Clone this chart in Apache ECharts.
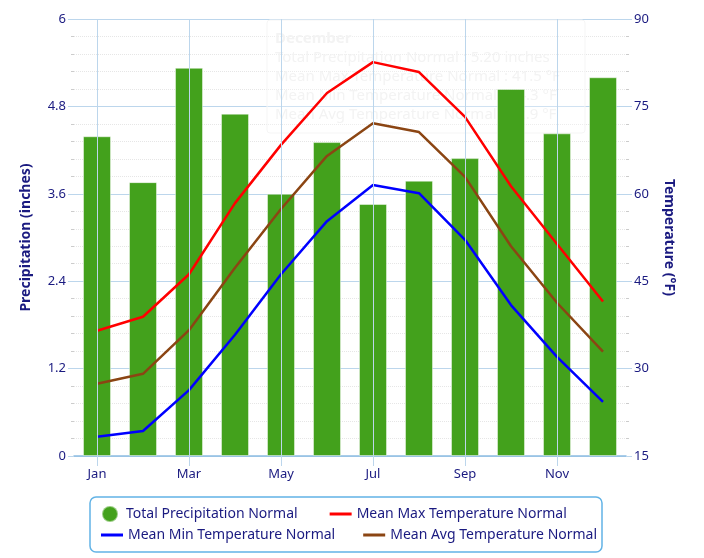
<!DOCTYPE html>
<html>
<head>
<meta charset="utf-8">
<script src="https://cdn.jsdelivr.net/npm/echarts@6/dist/echarts.min.js"></script>
<style>html,body{margin:0;padding:0;background:#fff}#c{width:704px;height:558px}</style>
</head>
<body>
<div id="c"></div>
<script>
const months = ['Jan','Feb','Mar','Apr','May','Jun','Jul','Aug','Sep','Oct','Nov','Dec'];
const precip = [4.39, 3.76, 5.33, 4.70, 3.60, 4.31, 3.46, 3.78, 4.09, 5.04, 4.43, 5.20];
const maxTemp = [36.5, 38.9, 46.2, 58.4, 68.4, 77.3, 82.6, 80.9, 73.2, 61.3, 51.4, 41.5];
const avgTemp = [27.4, 29.1, 36.6, 47.3, 57.4, 66.5, 72.1, 70.6, 62.9, 51.0, 41.3, 32.9];
const minTemp = [18.3, 19.3, 26.3, 35.8, 46.2, 55.3, 61.5, 60.1, 52.1, 40.9, 32.0, 24.3];
const precipAxis = {min: 0, max: 6, interval: 1.2};
const tempAxis = {min: 15, max: 90, interval: 15};
const gridMonths = ['Jan','Mar','May','Jul','Sep','Nov'];
const ghostLines = ['December','Total Precipitation Normal : 5.20 inches','Mean Max Temperature Normal : 41.5 °F','Mean Min Temperature Normal : 24.3 °F','Mean Avg Temperature Normal : 32.9 °F'];

const navy = '#1a1a80';
const font = 'Noto Sans';
const gridBlue = '#bcd6ec';
const ghost = '#f3f3f3';

const chart = echarts.init(document.getElementById('c'));
chart.setOption({
  animation: false,
  textStyle: {fontFamily: font},
  grid: {left: 74, right: 78, top: 19, bottom: 102, containLabel: false},
  graphic: [
    {type: 'rect', z: 1, shape: {x: 267, y: 20, width: 318, height: 113, r: 3},
     style: {fill: 'rgba(255,255,255,0.3)', stroke: '#f5f5f5', lineWidth: 1}},
    {type: 'text', z: 1, x: 275, y: 31, style: {text: ghostLines[0], font: 'bold 15px ' + font, fill: ghost}},
    {type: 'text', z: 1, x: 275, y: 50, style: {text: ghostLines[1], font: '15px ' + font, fill: ghost}},
    {type: 'text', z: 1, x: 275, y: 69, style: {text: ghostLines[2], font: '15px ' + font, fill: ghost}},
    {type: 'text', z: 1, x: 275, y: 88, style: {text: ghostLines[3], font: '15px ' + font, fill: ghost}},
    {type: 'text', z: 1, x: 275, y: 107, style: {text: ghostLines[4], font: '15px ' + font, fill: ghost}},
    {type: 'rect', shape: {x: 90, y: 497, width: 512, height: 55, r: 6},
     style: {fill: 'none', stroke: '#62b3e6', lineWidth: 1.5}}
  ],
  legend: [
    {left: 96, top: 500, itemWidth: 22, itemHeight: 16, itemGap: 32,
     textStyle: {color: navy, fontSize: 14, fontFamily: font},
     data: [
       {name: 'Total Precipitation Normal', icon: 'circle'},
       {name: 'Mean Max Temperature Normal', icon: 'path://M0,0L22,0L22,3L0,3Z'}
     ]},
    {left: 96, top: 523, itemWidth: 22, itemHeight: 16, itemGap: 28,
     textStyle: {color: navy, fontSize: 14, fontFamily: font},
     data: [
       {name: 'Mean Min Temperature Normal', icon: 'path://M0,0L22,0L22,3L0,3Z'},
       {name: 'Mean Avg Temperature Normal', icon: 'path://M0,0L22,0L22,3L0,3Z'}
     ]}
  ],
  xAxis: {
    type: 'category', data: months, boundaryGap: true,
    axisLine: {show: true, lineStyle: {color: '#8dbde2', width: 1.5}},
    axisTick: {show: true, alignWithLabel: true, interval: 1, length: 10, lineStyle: {color: gridBlue}},
    axisLabel: {interval: 1, color: navy, fontSize: 13, margin: 12},
    splitLine: {show: false}
  },
  yAxis: [
    {type: 'value', min: precipAxis.min, max: precipAxis.max, interval: precipAxis.interval,
     name: 'Precipitation (inches)', nameLocation: 'middle', nameGap: 41,
     nameTextStyle: {color: navy, fontSize: 14, fontWeight: 'bold', fontFamily: font},
     axisLine: {show: false},
     axisTick: {show: true, length: 6, lineStyle: {color: gridBlue}},
     minorTick: {show: true, splitNumber: 5, length: 3, lineStyle: {color: '#cccccc'}},
     axisLabel: {color: navy, fontSize: 13, margin: 8},
     splitLine: {show: true, lineStyle: {color: gridBlue, width: 1}},
     minorSplitLine: {show: true, lineStyle: {color: '#e6e6e6', type: 'dotted'}}
    },
    {type: 'value', min: tempAxis.min, max: tempAxis.max, interval: tempAxis.interval,
     name: 'Temperature (°F)', nameLocation: 'middle', nameGap: 36, nameRotate: -90,
     nameTextStyle: {color: navy, fontSize: 14, fontWeight: 'bold', fontFamily: font},
     axisLine: {show: false},
     axisTick: {show: true, length: 6, lineStyle: {color: gridBlue}},
     minorTick: {show: true, splitNumber: 5, length: 3, lineStyle: {color: '#cccccc'}},
     axisLabel: {color: navy, fontSize: 13, margin: 8},
     splitLine: {show: false}
    }
  ],
  series: [
    {name: 'gridlines', type: 'line', z: 1, data: [], silent: true,
     markLine: {silent: true, symbol: 'none', label: {show: false},
       lineStyle: {color: gridBlue, type: 'solid', width: 1},
       data: gridMonths.map(m => ({xAxis: m}))}},
    {name: 'Total Precipitation Normal', type: 'bar', yAxisIndex: 0, z: 2, barWidth: 28,
     itemStyle: {color: '#43a11c', borderColor: 'rgba(255,255,255,0.45)', borderWidth: 1},
     data: precip},
    {name: 'Mean Max Temperature Normal', type: 'line', yAxisIndex: 1, z: 3, symbol: 'none',
     lineStyle: {color: '#ff0000', width: 2.5}, itemStyle: {color: '#ff0000'}, data: maxTemp},
    {name: 'Mean Min Temperature Normal', type: 'line', yAxisIndex: 1, z: 3, symbol: 'none',
     lineStyle: {color: '#0000ff', width: 2.5}, itemStyle: {color: '#0000ff'}, data: minTemp},
    {name: 'Mean Avg Temperature Normal', type: 'line', yAxisIndex: 1, z: 3, symbol: 'none',
     lineStyle: {color: '#8b4513', width: 2.5}, itemStyle: {color: '#8b4513'}, data: avgTemp}
  ]
});
</script>
</body>
</html>
